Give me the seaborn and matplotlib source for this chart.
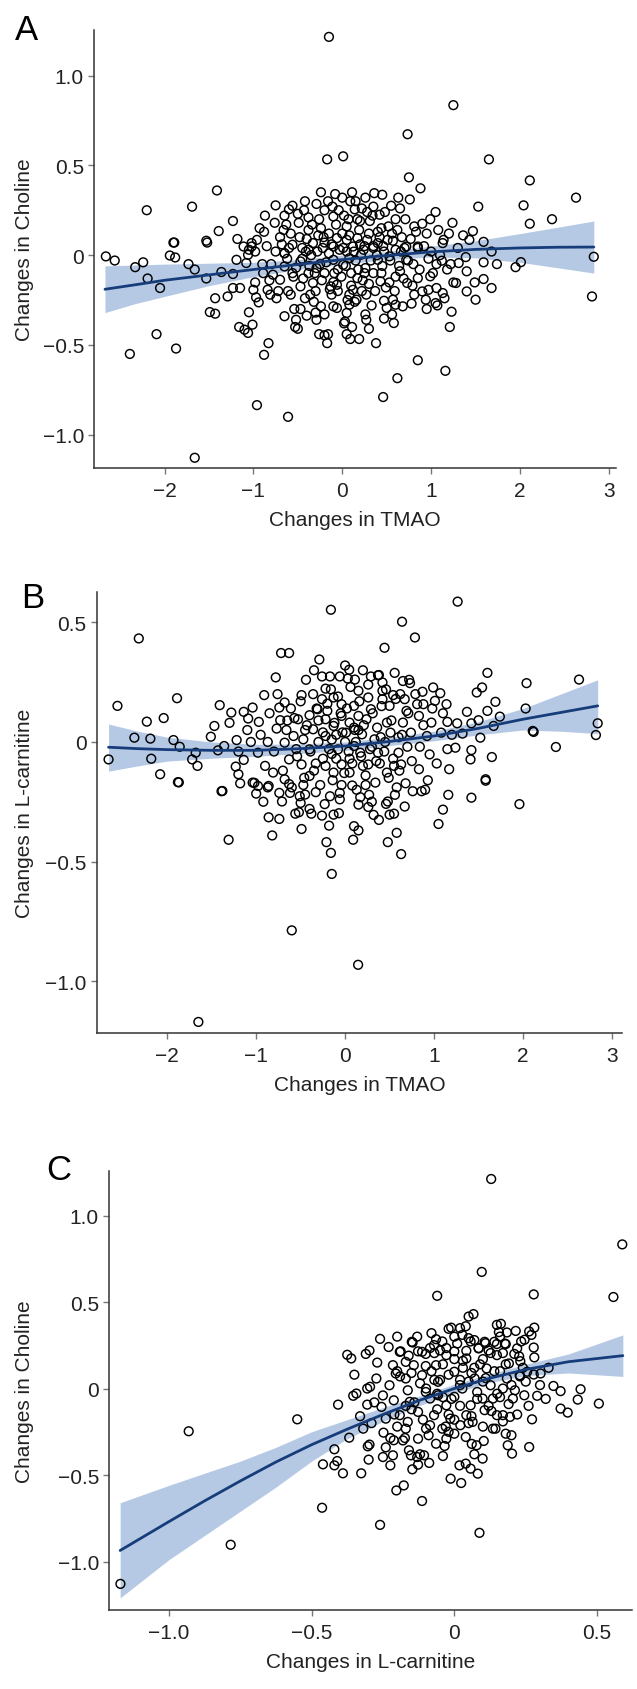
import matplotlib
matplotlib.use("Agg")
import matplotlib.pyplot as plt
import seaborn as sns

# ---------------- data ----------------
# panel A: TMAO vs choline (outer / readable points)
a_tmao = [
    -0.15, 1.25, 0.735, -0.17, 0.01, 1.65, 0.75, 2.11, 0.88, 2.63,
    -1.41, -0.24, -2.2, -1.69, 2.04, 1.53, 2.11, 2.36, 1.24, -1.23,
    -1.39, -1.53, -1.9, -0.75, -0.87, -0.93, -0.88, 0.76, 1.05, 0.99,
    0.9, 1.47, 1.36, 1.43, 1.59, 1.14, 1.08, 0.95, 0.81, 0.67,
    0.56, 0.45, 0.36, 0.26, 0.11, 0.0, 0.09, 0.14, 0.17, 0.35,
    0.42, 0.55, 0.65, 0.6, 0.44, 0.31, 0.19, 0.05, -0.04, -0.1,
    -0.2, -0.29, -0.43, -0.38, -0.56, -0.6, -0.65, -0.63, -0.49, -0.38,
    -0.24, -0.15, -0.06, 0.05, 0.17, 0.28, 0.4, 0.51, -0.7, -0.56,
    -0.45, -0.33, -0.22, -0.1, 0.01, 0.12, 0.24, 0.35, 0.47, 0.6,
    0.72, 0.85, -0.65, -1.02, -0.96, -1.11, -1.18, -1.05, -2.66, -2.56,
    -2.33, -2.24, -2.19, -2.05, -1.94, -1.88, -1.73, -1.66, -1.53, -2.09,
    -2.39, -1.87, -1.66, -1.49, -1.43, -1.43, -1.36, -1.29, -1.23, -1.23,
    -1.15, -1.16, -1.1, -1.06, -1.01, -1.05, -0.98, -1.0, -0.97, -0.94,
    -0.96, -0.88, -0.83, -0.89, -0.78, -0.84, -0.81, -0.74, -0.61, -0.65,
    -0.53, -0.5, -0.52, -0.54, -0.47, -0.4, -0.26, -0.2, -0.17, -0.16,
    -0.29, -0.24, -0.2, -0.1, -0.06, 0.05, 0.03, 0.05, 0.09, 0.11,
    0.19, 0.26, 0.3, 0.38, 0.46, 0.47, 0.47, 0.5, 0.58, 0.62,
    0.57, 0.6, 0.68, 0.85, 1.16, 1.21, 1.23, 1.13, 1.15, 1.05,
    1.07, 0.94, 0.97, 1.06, 0.9, 0.81, 0.73, 0.85, 0.99, 1.25,
    1.28, 1.4, 1.5, 1.49, 1.59, 1.68, 1.4, 1.59, 1.74, 1.68,
    1.39, 1.31, 1.22, 1.12, 1.06, 1.0, 1.95, 2.01, 2.83, 2.81,
    0.72, 0.65, 0.53, 0.43, 0.35, 0.26, 0.17, 0.12, 0.08, 0.16,
    0.08, -0.06, -0.13, -0.2, -0.29, -0.38, -0.33, -0.47, -0.42, -0.56,
    -0.65, -0.7, -0.61, -0.1, 0.01, 0.08, 0.21, 0.4, 0.53, -0.47,
    -0.65, -0.38, -1.02, -0.98, -1.06, -1.19, -1.08, -1.52, -1.89, 1.13,
    0.85, -0.45, -0.35, -0.25, -0.15, -0.05, 0.05, 0.15, 0.25, 0.35,
    0.45, -0.55, -0.3, -0.1, 0.1, 0.3, 0.2, -0.2, 0.0, -0.4,
    0.4, -0.6, 0.6, -0.12, 0.14, -0.32, 0.22, 0.7, -0.75, 0.8,
    -0.8,
]
a_choline = [
    1.215, 0.835, 0.673, 0.533, 0.55, 0.533, 0.433, 0.416, 0.372, 0.32,
    0.36, 0.35, 0.25, 0.27, 0.277, 0.27, 0.175, 0.2, 0.18, 0.19,
    0.134, 0.08, 0.07, 0.277, 0.22, 0.15, 0.13, 0.31, 0.24, 0.2,
    0.175, 0.134, 0.11, 0.085, 0.074, 0.085, 0.14, 0.12, 0.16, 0.1,
    0.12, 0.336, 0.345, 0.32, 0.35, 0.32, 0.3, 0.255, 0.2, 0.27,
    0.225, 0.275, 0.26, 0.2, 0.15, 0.19, 0.14, 0.16, 0.25, 0.215,
    0.25, 0.285, 0.25, 0.21, 0.275, 0.255, 0.22, 0.17, 0.18, 0.14,
    0.15, 0.12, 0.095, 0.085, 0.095, 0.085, 0.067, 0.085, 0.1, 0.058,
    0.04, 0.067, 0.04, 0.048, 0.04, 0.048, 0.03, 0.04, 0.02, 0.03,
    0.048, 0.04, 0.01, 0.067, 0.085, 0.048, 0.09, 0.03, -0.007, -0.03,
    -0.067, -0.04, -0.13, -0.183, -0.002, -0.013, -0.05, -0.08, -0.13, -0.44,
    -0.55, -0.52, -1.128, -0.317, -0.326, -0.24, -0.094, -0.23, -0.105, -0.183,
    -0.183, -0.4, -0.415, -0.433, -0.387, -0.318, -0.152, -0.193, -0.235, -0.263,
    -0.835, -0.555, -0.49, -0.1, -0.109, -0.193, -0.22, -0.24, -0.9, -0.34,
    -0.4, -0.41, -0.36, -0.3, -0.3, -0.337, -0.44, -0.446, -0.49, -0.44,
    -0.36, -0.285, -0.33, -0.285, -0.294, -0.322, -0.37, -0.44, -0.467, -0.4,
    -0.467, -0.33, -0.41, -0.49, -0.79, -0.353, -0.254, -0.294, -0.378, -0.685,
    -0.248, -0.276, -0.285, -0.585, -0.644, -0.4, -0.315, -0.211, -0.24, -0.267,
    -0.28, -0.248, -0.193, -0.183, -0.202, -0.22, -0.155, -0.128, -0.118, -0.152,
    -0.155, -0.202, -0.248, -0.152, -0.133, -0.183, -0.09, -0.04, -0.05, 0.02,
    -0.011, -0.044, -0.05, -0.031, -0.05, 0.02, -0.067, -0.039, -0.009, -0.23,
    -0.026, -0.09, -0.152, -0.146, -0.1, -0.072, -0.128, -0.193, -0.22, -0.248,
    -0.276, -0.165, -0.174, -0.1, -0.072, -0.1, -0.155, -0.174, -0.24, -0.1,
    -0.063, -0.137, -0.2, -0.026, -0.054, -0.017, 0.002, -0.026, -0.007, -0.035,
    0.011, 0.03, 0.048, 0.02, 0.002, -0.026, -0.044, 0.07, 0.07, 0.067,
    0.048, -0.02, 0.0, -0.05, 0.01, -0.08, 0.02, -0.03, -0.1, 0.05,
    -0.06, -0.12, -0.2, -0.15, -0.1, -0.16, 0.06, 0.07, 0.12, 0.09,
    0.13, 0.04, -0.12, -0.22, -0.26, -0.26, -0.2, 0.04, 0.02, -0.05,
    -0.05,
]
# panel A: dense core, estimated
a_tmao_core = [
    -0.68, -0.62, -0.58, -0.52, -0.48, -0.44, -0.41, -0.37, -0.34, -0.31,
    -0.28, -0.26, -0.23, -0.21, -0.18, -0.16, -0.14, -0.12, -0.09, -0.07,
    -0.05, -0.03, -0.01, 0.02, 0.04, 0.06, 0.08, 0.1, 0.13, 0.15,
    0.18, 0.2, 0.23, 0.25, 0.27, 0.3, 0.32, 0.34, 0.37, 0.39,
    0.42, 0.44, 0.46, 0.49, 0.52, 0.54, 0.57, 0.59, 0.62, 0.64,
    0.66, 0.69, 0.71, 0.74, 0.77, 0.79, 0.83, 0.87, 0.92, 0.97,
    -0.72, -0.66, -0.5, -0.36, -0.27, -0.11, 0.07, 0.22, 0.33, 0.48,
    -0.85, -0.9, -0.82, -0.76, -0.3, 0.02, 0.27, 0.56, 0.78, 1.1,
    1.2, 1.3, 1.02, 1.18, 0.95, -0.42, -0.08, 0.28, 0.63, -0.58,
]
a_choline_core = [
    0.06, -0.02, 0.12, -0.07, 0.1, -0.13, 0.02, -0.06, 0.17, -0.1,
    0.02, 0.2, -0.14, 0.1, -0.04, 0.3, -0.19, 0.06, -0.1, 0.17,
    -0.2, 0.03, -0.12, 0.22, -0.06, -0.25, 0.11, -0.17, 0.02, 0.3,
    -0.08, 0.19, -0.14, 0.05, -0.22, 0.12, -0.03, 0.22, -0.2, 0.0,
    0.1, -0.1, 0.05, -0.18, 0.16, -0.03, 0.08, -0.2, 0.14, -0.06,
    0.02, -0.13, 0.2, -0.03, 0.09, -0.17, 0.13, -0.08, 0.05, -0.02,
    -0.2, 0.14, 0.23, -0.22, 0.11, 0.27, 0.2, 0.26, -0.28, 0.24,
    0.05, -0.05, -0.14, 0.18, -0.32, -0.38, -0.36, -0.33, -0.27, 0.0,
    0.12, 0.04, -0.1, -0.08, -0.3, 0.3, 0.34, 0.24, 0.32, -0.22,
]

# panel B: TMAO vs L-carnitine
b_tmao = [
    1.265, -0.16, 0.64, 0.785, -2.32, 0.443, -0.72, -0.63, -0.29, 0.046,
    0.557, 1.6, 2.63, 2.04, -0.26, -0.17, -0.06, 0.03, 0.11, 0.29,
    0.37, 0.42, 0.73, 0.65, 0.99, 1.54, 1.48, 1.07, 0.87, 0.54,
    0.42, 0.15, -0.22, -0.49, -0.91, -1.89, -2.56, 1.69, 2.03, 1.6,
    1.37, 1.74, 1.5, 1.67, 1.14, 1.01, 0.88, 0.81, 0.67, 0.42,
    0.26, -0.13, -0.26, -0.04, 0.1, 0.29, 0.5, 0.69, 0.83, 0.97,
    1.15, 1.26, 1.42, -1.41, -1.28, -1.14, -1.04, -1.09, -0.97, -0.74,
    -0.68, -0.61, -0.73, -0.53, -0.4, -0.77, -2.04, -2.23, -1.47, -1.51,
    -2.37, -2.19, -1.93, -1.86, -1.22, -2.66, -2.18, -1.72, -1.68, -1.66,
    -1.43, -1.36, -2.08, -1.88, -1.38, -1.23, -1.14, -1.2, -1.06, -0.98,
    -0.87, -1.04, -0.98, -0.86, -0.81, -0.68, -0.63, -0.49, -0.4, -0.22,
    -0.13, -0.04, 0.05, 0.17, 0.26, 0.37, 0.47, 0.6, 0.63, 0.83,
    0.95, 1.17, 1.24, 1.15, 1.42, 1.41, 1.65, 1.58, 1.52, 1.32,
    2.11, 2.12, 2.37, 2.84, 2.82, 1.08, 0.92, 0.74, 0.51, 0.33,
    0.19, 0.01, -0.13, -0.22, -0.36, -0.47, -0.58, -0.68, -0.4, -0.08,
    0.1, 0.05, 0.24, 0.47, 0.65, -0.22, -0.31, -0.04, 0.15, -1.87,
    -1.39, -1.18, -1.0, -1.02, -0.87, -0.74, -0.71, -0.62, -0.51, -0.5,
    -0.52, -0.86, -0.74, -0.49, -0.82, -1.31, -0.4, -0.38, -0.33, -0.26,
    -0.17, -0.13, -0.07, -0.06, -0.21, -0.16, -0.15, -0.6, 0.146, -1.65,
    0.1, 0.15, 0.09, 0.15, 0.17, 0.27, 0.26, 0.32, 0.38, 0.46,
    0.48, 0.5, 0.48, 0.58, 0.63, 0.56, 0.58, 0.68, 0.76, 0.86,
    1.05, 1.1, 1.16, 1.42, 1.96, 1.58, 0.23, 0.08, -0.04, -0.47,
    -0.63, -0.45, -0.3, -0.15, 0.0, 0.15, 0.3, 0.45, 0.6, -0.55,
    -0.25, 0.05, 0.35, -0.1, 0.2, 0.55, -0.35, 0.7, 0.1, -0.2,
]
b_carnitine = [
    0.587, 0.553, 0.503, 0.437, 0.433, 0.394, 0.372, 0.372, 0.345, 0.302,
    0.289, 0.289, 0.261, 0.246, 0.274, 0.274, 0.274, 0.265, 0.261, 0.274,
    0.279, 0.249, 0.246, 0.255, 0.228, 0.228, 0.207, 0.204, 0.21, 0.196,
    0.214, 0.214, 0.223, 0.196, 0.196, 0.183, 0.151, 0.168, 0.14, 0.13,
    0.126, 0.106, 0.091, 0.067, 0.158, 0.172, 0.158, 0.158, 0.179, 0.179,
    0.186, 0.186, 0.179, 0.158, 0.151, 0.137, 0.151, 0.13, 0.109, 0.081,
    0.084, 0.078, 0.078, 0.154, 0.123, 0.126, 0.144, 0.098, 0.084, 0.144,
    0.165, 0.14, 0.091, 0.095, 0.112, 0.056, 0.1, 0.085, 0.067, 0.022,
    0.018, 0.014, 0.008, -0.02, 0.008, -0.073, -0.07, -0.073, -0.045, -0.1,
    -0.035, -0.017, -0.135, -0.168, -0.205, -0.103, -0.075, -0.135, 0.0, -0.045,
    0.0, -0.17, -0.184, -0.184, -0.128, -0.156, -0.073, -0.094, -0.142, -0.1,
    -0.128, -0.094, -0.128, -0.045, -0.094, -0.045, -0.128, -0.045, -0.094, -0.114,
    -0.052, -0.114, -0.024, -0.03, -0.034, -0.073, -0.063, -0.156, 0.018, 0.035,
    0.046, 0.042, -0.021, 0.078, 0.029, 0.039, 0.025, 0.039, 0.039, 0.011,
    0.032, 0.039, 0.067, 0.025, 0.053, 0.011, 0.025, -0.003, -0.031, -0.031,
    -0.017, 0.081, 0.095, 0.081, 0.081, 0.095, 0.137, 0.109, 0.109, -0.169,
    -0.206, -0.173, -0.216, -0.171, -0.19, -0.213, -0.249, -0.213, -0.227, -0.255,
    -0.294, -0.315, -0.322, -0.364, -0.391, -0.409, -0.28, -0.3, -0.21, -0.308,
    -0.227, -0.304, -0.298, -0.213, -0.419, -0.464, -0.552, -0.788, -0.932, -1.171,
    -0.352, -0.37, -0.409, -0.262, -0.231, -0.221, -0.272, -0.305, -0.326, -0.259,
    -0.249, -0.304, -0.419, -0.38, -0.469, -0.221, -0.19, -0.173, -0.206, -0.206,
    -0.343, -0.283, -0.221, -0.233, -0.26, -0.162, -0.18, -0.182, -0.18, -0.18,
    -0.176, 0.05, 0.0, -0.05, 0.0, 0.05, -0.02, 0.0, 0.02, -0.03,
    -0.07, -0.07, -0.08, 0.03, -0.1, -0.1, -0.12, -0.02, 0.06, 0.13,
]
b_tmao_core = [
    -0.95, -0.9, -0.85, -0.8, -0.76, -0.7, -0.66, -0.6, -0.57, -0.54,
    -0.5, -0.46, -0.43, -0.39, -0.36, -0.33, -0.3, -0.28, -0.25, -0.23,
    -0.2, -0.18, -0.16, -0.14, -0.12, -0.1, -0.08, -0.06, -0.03, -0.01,
    0.02, 0.04, 0.06, 0.08, 0.11, 0.13, 0.16, 0.18, 0.21, 0.23,
    0.26, 0.28, 0.31, 0.34, 0.36, 0.39, 0.41, 0.44, 0.46, 0.49,
    0.52, 0.54, 0.57, 0.61, 0.64, 0.67, 0.71, 0.75, 0.79, 0.84,
    0.88, 0.93, 0.98, 1.03, 1.1, 1.2, -1.1, -1.2, -1.3, -0.92,
    -0.78, -0.56, -0.44, -0.35, -0.18, 0.0, 0.2, 0.38, 0.55, 0.72,
    -0.65, -0.45, -0.05, 0.3, 0.62, 0.9, -0.15, 0.12, 0.4, -0.32,
]
b_carnitine_core = [
    0.03, -0.1, 0.12, -0.04, 0.2, -0.12, 0.05, -0.19, 0.1, -0.06,
    0.17, -0.15, 0.07, -0.04, 0.2, -0.09, 0.09, -0.18, 0.04, -0.26,
    0.16, -0.03, 0.22, -0.16, 0.08, -0.07, 0.19, -0.24, 0.04, -0.13,
    0.14, -0.04, 0.23, -0.09, 0.05, -0.2, 0.17, -0.06, 0.07, -0.14,
    0.24, -0.03, 0.12, -0.17, 0.06, -0.09, 0.15, -0.04, 0.22, -0.15,
    0.09, -0.07, 0.18, -0.12, 0.03, -0.27, 0.12, -0.08, 0.2, -0.02,
    0.07, -0.16, 0.14, -0.09, 0.12, 0.03, 0.05, -0.04, 0.08, -0.25,
    0.27, -0.3, 0.26, 0.3, -0.35, 0.32, 0.3, 0.28, -0.3, 0.26,
    0.09, -0.22, 0.12, -0.25, 0.2, -0.2, 0.01, 0.0, 0.02, 0.14,
]

# panel C: L-carnitine vs choline
c_carnitine = [
    0.129, 0.588, 0.096, -0.06, 0.278, 0.557, 0.05, 0.067, 0.149, 0.163,
    -0.02, -0.011, 0.02, 0.156, 0.184, 0.215, 0.262, 0.28, 0.27, -0.064,
    -0.042, 0.0, 0.028, 0.05, 0.057, 0.109, 0.149, 0.18, 0.234, 0.246,
    0.278, -0.26, -0.297, -0.375, -0.188, -0.146, -0.127, -0.085, -0.07, -0.028,
    0.0, 0.042, 0.085, 0.127, 0.17, 0.227, -1.169, -0.783, -0.93, -0.55,
    -0.463, -0.26, 0.088, -0.113, -0.203, -0.177, -0.013, 0.024, -0.46, -0.42,
    -0.39, -0.326, -0.41, -0.42, -0.368, -0.319, -0.303, -0.297, -0.3, -0.25,
    -0.215, -0.224, -0.248, -0.224, -0.212, -0.173, -0.159, -0.152, -0.13, -0.127,
    -0.106, -0.088, -0.147, -0.04, -0.034, 0.018, 0.04, 0.057, 0.082, 0.099,
    0.061, 0.078, 0.103, 0.187, 0.202, 0.262, 0.18, 0.144, 0.195, 0.17,
    0.272, 0.29, 0.347, 0.372, 0.372, 0.397, 0.432, 0.442, 0.506, 0.302,
    0.278, 0.229, 0.231, 0.191, 0.245, 0.212, 0.17, 0.135, 0.106, 0.064,
    0.021, -0.014, -0.042, -0.071, -0.099, -0.127, -0.163, -0.191, -0.24, -0.255,
    -0.305, -0.354, -0.343, -0.407, -0.305, -0.295, -0.273, -0.361, -0.215, -0.205,
    -0.227, -0.191, -0.17, -0.149, -0.142, -0.113, -0.099, -0.085, -0.057, -0.064,
    -0.028, 0.0, 0.028, 0.042, 0.071, 0.085, 0.113, 0.127, 0.149, 0.184,
    0.099, 0.057, -0.028, -0.057, 0.0, 0.042, 0.149, 0.135, 0.0, -0.085,
    -0.17, -0.028, -0.064, -0.127, -0.156, -0.163, -0.212, -0.17, -0.113, -0.071,
    0.106, 0.177, 0.22, 0.255, 0.205, -0.05, 0.03, 0.08, -0.12, 0.16,
    -0.02, 0.1, -0.08, 0.05, 0.2, -0.15, 0.12, -0.04, 0.02, 0.07,
    -0.1, 0.25, -0.2, 0.0, 0.16,
]
c_choline = [
    1.211, 0.833, 0.674, 0.536, 0.544, 0.529, 0.416, 0.43, 0.368, 0.374,
    0.345, 0.352, 0.349, 0.326, 0.324, 0.333, 0.33, 0.352, 0.31, 0.285,
    0.272, 0.3, 0.31, 0.291, 0.272, 0.262, 0.257, 0.257, 0.272, 0.282,
    0.237, 0.287, 0.22, 0.195, 0.215, 0.266, 0.215, 0.234, 0.205, 0.234,
    0.215, 0.218, 0.234, 0.205, 0.205, 0.186, -1.129, -0.903, -0.247, -0.178,
    -0.689, -0.788, -0.834, -0.65, -0.589, -0.56, -0.521, -0.546, -0.438, -0.444,
    -0.49, -0.49, -0.419, -0.351, -0.284, -0.232, -0.334, -0.324, -0.411, -0.396,
    -0.386, -0.444, -0.255, -0.286, -0.299, -0.286, -0.357, -0.386, -0.396, -0.44,
    -0.386, -0.43, -0.467, -0.39, -0.332, -0.444, -0.434, -0.463, -0.492, -0.405,
    -0.32, -0.328, -0.303, -0.328, -0.376, -0.338, -0.261, -0.232, -0.164, -0.154,
    -0.178, -0.042, 0.015, -0.015, -0.116, -0.139, -0.064, -0.004, -0.087, 0.087,
    0.081, 0.077, 0.158, 0.145, -0.039, -0.01, 0.0, -0.058, -0.125, -0.193,
    -0.212, -0.174, -0.232, -0.154, -0.232, -0.29, -0.193, -0.154, -0.174, -0.106,
    -0.093, -0.042, -0.029, -0.093, 0.0, 0.01, 0.058, 0.174, 0.135, 0.087,
    0.019, 0.212, 0.058, 0.27, 0.135, 0.077, 0.0, -0.058, 0.039, 0.135,
    0.193, 0.097, 0.0, 0.174, 0.058, 0.232, 0.116, 0.019, 0.193, 0.058,
    -0.058, -0.097, -0.097, -0.039, -0.048, -0.154, -0.154, -0.232, -0.261, -0.212,
    -0.232, -0.29, -0.319, -0.135, -0.077, -0.01, -0.068, 0.154, 0.212, 0.251,
    0.27, 0.26, 0.232, 0.097, -0.058, 0.05, 0.12, -0.02, 0.03, 0.1,
    -0.15, 0.17, 0.1, -0.2, 0.02, -0.12, -0.1, -0.05, 0.05, 0.12,
    -0.02, 0.04, 0.1, 0.17, -0.05,
]
c_carnitine_core = [
    -0.29, -0.27, -0.25, -0.23, -0.21, -0.19, -0.18, -0.16, -0.14, -0.13,
    -0.11, -0.1, -0.09, -0.07, -0.06, -0.05, -0.03, -0.02, -0.01, 0.01,
    0.02, 0.03, 0.04, 0.05, 0.06, 0.07, 0.08, 0.09, 0.1, 0.11,
    0.12, 0.13, 0.14, 0.15, 0.16, 0.17, 0.18, 0.19, 0.21, 0.22,
    0.24, 0.26, 0.28, 0.3, -0.33, -0.35, -0.31, -0.28, -0.2, -0.08,
    0.04, 0.2, -0.12, 0.07, -0.24, 0.32, 0.33, -0.04, 0.0, -0.15,
    0.02, -0.06, 0.1, -0.1, 0.14, -0.2, 0.23, -0.17, 0.06, -0.02,
]
c_choline_core = [
    -0.2, 0.15, -0.04, 0.24, -0.15, 0.07, -0.3, 0.19, -0.08, 0.3,
    -0.18, 0.13, -0.27, 0.05, -0.12, 0.22, -0.22, 0.08, -0.06, 0.26,
    -0.1, 0.16, -0.28, 0.04, -0.16, 0.28, -0.06, 0.14, -0.22, 0.06,
    0.22, -0.13, 0.1, -0.03, 0.3, -0.19, 0.14, -0.09, 0.2, -0.15,
    0.12, -0.1, 0.18, 0.02, -0.16, 0.08, 0.2, -0.08, 0.3, 0.32,
    0.36, -0.27, -0.38, -0.38, -0.34, -0.06, 0.12, 0.14, -0.18, 0.09,
    0.02, -0.03, 0.04, 0.2, 0.27, -0.22, 0.07, -0.1, 0.09, -0.25,
]

# fitted curves and confidence bands
a_fit_x = [-2.67, -2.33, -2.0, -1.5, -1.0, -0.5, 0.0, 0.5, 1.0, 1.5, 2.0, 2.42, 2.83]
a_fit_y = [-0.19, -0.165, -0.14, -0.11, -0.08, -0.052, -0.025, -0.002, 0.018, 0.032, 0.04, 0.044, 0.045]
a_fit_lo = [-0.32, -0.27, -0.23, -0.17, -0.12, -0.08, -0.05, -0.025, -0.01, -0.015, -0.04, -0.07, -0.10]
a_fit_hi = [-0.06, -0.055, -0.05, -0.045, -0.04, -0.025, 0.0, 0.02, 0.05, 0.08, 0.12, 0.155, 0.19]

b_fit_x = [-2.66, -2.33, -2.0, -1.5, -1.0, -0.5, 0.0, 0.5, 1.0, 1.5, 2.0, 2.42, 2.84]
b_fit_y = [-0.022, -0.028, -0.032, -0.035, -0.035, -0.028, -0.017, 0.002, 0.025, 0.057, 0.095, 0.123, 0.151]
b_fit_lo = [-0.122, -0.1, -0.08, -0.068, -0.06, -0.048, -0.035, -0.015, 0.005, 0.03, 0.05, 0.045, 0.035]
b_fit_hi = [0.075, 0.045, 0.02, 0.0, -0.01, -0.008, 0.0, 0.02, 0.045, 0.085, 0.14, 0.2, 0.26]

c_fit_x = [-1.17, -1.0, -0.875, -0.75, -0.625, -0.5, -0.375, -0.25, -0.125, 0.0, 0.125, 0.25, 0.4, 0.59]
c_fit_y = [-0.936, -0.77, -0.65, -0.535, -0.425, -0.325, -0.235, -0.15, -0.07, 0.0, 0.06, 0.11, 0.155, 0.19]
c_fit_lo = [-1.21, -0.99, -0.85, -0.71, -0.57, -0.42, -0.29, -0.19, -0.10, -0.025, 0.035, 0.075, 0.09, 0.07]
c_fit_hi = [-0.66, -0.56, -0.49, -0.42, -0.34, -0.25, -0.18, -0.11, -0.045, 0.025, 0.085, 0.14, 0.2, 0.31]

tmao_ticks = [-2, -1, 0, 1, 2, 3]
tmao_labels = ["\u22122", "\u22121", "0", "1", "2", "3"]
carn_ticks = [-1.0, -0.5, 0, 0.5]
carn_labels = ["\u22121.0", "\u22120.5", "0", "0.5"]
chol_ticks = [-1.0, -0.5, 0, 0.5, 1.0]
chol_labels = ["\u22121.0", "\u22120.5", "0", "0.5", "1.0"]

# ---------------- style ----------------
sns.set_style("ticks")
plt.rcParams["font.family"] = ["Liberation Sans", "DejaVu Sans"]

LINE = "#163d7a"
BAND = "#b5c9e5"
TXT = "#222222"

W, H = 637, 1690
fig = plt.figure(figsize=(W / 100, H / 100), dpi=100)


def px_axes(left, top, right, bottom):
    return fig.add_axes([left / W, 1 - bottom / H, (right - left) / W, (bottom - top) / H])


def panel(ax, x, y, fx, fy, lo, hi, xlim, ylim, xt, xtl, yt, ytl, xlabel, ylabel, left_px, width_px):
    ax.fill_between(fx, lo, hi, color=BAND, lw=0, zorder=1)
    sns.scatterplot(x=x, y=y, ax=ax, s=40, facecolors="none", edgecolor="black",
                    linewidth=1.05, zorder=2)
    sns.lineplot(x=fx, y=fy, ax=ax, color=LINE, lw=2.0, estimator=None, sort=False, zorder=3)
    ax.set_xlim(*xlim)
    ax.set_ylim(*ylim)
    ax.set_xticks(xt, xtl)
    ax.set_yticks(yt, ytl)
    sns.despine(ax=ax)
    for s in ["left", "bottom"]:
        ax.spines[s].set_color("#333333")
        ax.spines[s].set_linewidth(1.1)
    ax.tick_params(axis="both", direction="out", length=4.5, width=1.0, color="#777777",
                   labelsize=15, labelcolor=TXT)
    ax.tick_params(axis="x", pad=5)
    ax.tick_params(axis="y", pad=3)
    ax.set_xlabel(xlabel, fontsize=15, color=TXT, labelpad=7)
    ax.set_ylabel(ylabel, fontsize=15, color=TXT)
    ax.yaxis.set_label_coords((34 - left_px) / width_px, 0.5)


ax_a = px_axes(94.3, 30.7, 616, 469)
panel(ax_a, a_tmao + a_tmao_core, a_choline + a_choline_core,
      a_fit_x, a_fit_y, a_fit_lo, a_fit_hi,
      (-2.79, 3.08), (-1.185, 1.255), tmao_ticks, tmao_labels, chol_ticks, chol_labels,
      "Changes in TMAO", "Changes in Choline", 94.3, 616 - 94.3)

ax_b = px_axes(97, 593.3, 621.7, 1033.7)
panel(ax_b, b_tmao + b_tmao_core, b_carnitine + b_carnitine_core,
      b_fit_x, b_fit_y, b_fit_lo, b_fit_hi,
      (-2.79, 3.11), (-1.216, 0.626), tmao_ticks, tmao_labels, chol_ticks[:4], chol_labels[:4],
      "Changes in TMAO", "Changes in L-carnitine", 97, 621.7 - 97)

ax_c = px_axes(109.3, 1171.7, 631.7, 1611)
panel(ax_c, c_carnitine + c_carnitine_core, c_choline + c_choline_core,
      c_fit_x, c_fit_y, c_fit_lo, c_fit_hi,
      (-1.208, 0.621), (-1.28, 1.259), carn_ticks, carn_labels, chol_ticks, chol_labels,
      "Changes in L-carnitine", "Changes in Choline", 109.3, 631.7 - 109.3)

for letter, xp, yp in [("A", 15, 40), ("B", 21, 608), ("C", 46, 1180)]:
    fig.text(xp / W, 1 - yp / H, letter, fontsize=25, color="black", ha="left", va="baseline")

fig.savefig("out.png", dpi=100)
